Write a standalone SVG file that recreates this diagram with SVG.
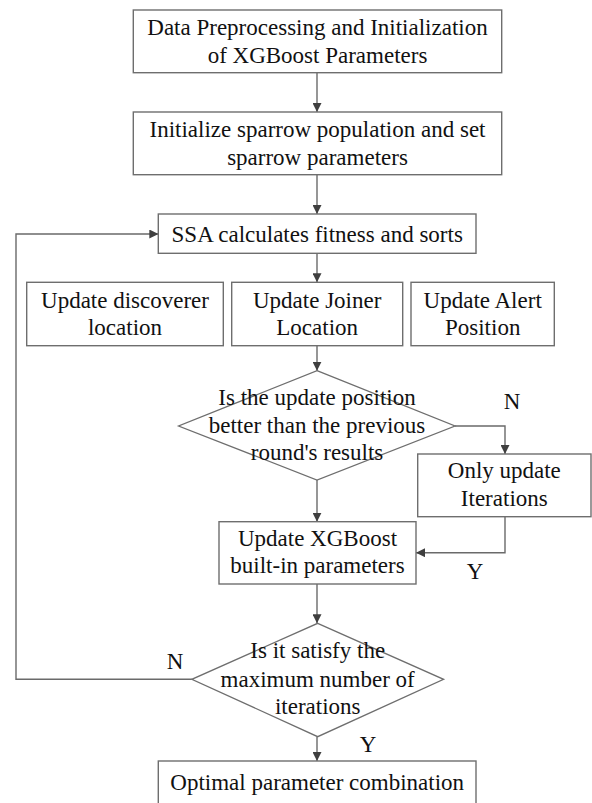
<svg xmlns="http://www.w3.org/2000/svg" width="592" height="803" viewBox="0 0 592 803">
  <style>
    .box { fill: #ffffff; stroke: #6e6e6e; stroke-width: 1.4; }
    .dia { fill: none; stroke: #6e6e6e; stroke-width: 1.3; }
    .lbl { font-family: "Liberation Serif", "Times New Roman", serif; font-size: 23px; fill: #111111; text-anchor: middle; }
    .edge { fill: none; stroke: #6a6a6a; stroke-width: 1.4; }
  </style>
  <defs>
    <marker id="arrow" viewBox="0 0 10 10" refX="10" refY="5" markerWidth="9" markerHeight="9" markerUnits="userSpaceOnUse" orient="auto">
      <path d="M0,0 L10,5 L0,10 z" fill="#3f3f3f"/>
    </marker>
  </defs>
  <rect width="592" height="803" fill="#ffffff"/>

  <!-- connectors -->
  <g id="connectors">
    <line class="edge" x1="317" y1="72.7" x2="317" y2="112" marker-end="url(#arrow)"/>
    <line class="edge" x1="317" y1="174.7" x2="317" y2="214" marker-end="url(#arrow)"/>
    <line class="edge" x1="317" y1="253.3" x2="317" y2="282.3" marker-end="url(#arrow)"/>
    <line class="edge" x1="317" y1="345.7" x2="317" y2="370.7" marker-end="url(#arrow)"/>
    <polyline class="edge" points="455,426 505,426 505,454" marker-end="url(#arrow)"/>
    <line class="edge" x1="317" y1="480" x2="317" y2="521.7" marker-end="url(#arrow)"/>
    <polyline class="edge" points="505,516.7 505,552.7 416,552.7" marker-end="url(#arrow)"/>
    <line class="edge" x1="317" y1="584" x2="317" y2="623.3" marker-end="url(#arrow)"/>
    <polyline class="edge" points="191.8,679.3 16,679.3 16,234 158.3,234" marker-end="url(#arrow)"/>
    <line class="edge" x1="317" y1="736.7" x2="317" y2="761" marker-end="url(#arrow)"/>
    <text class="lbl" x="512" y="409">N</text>
    <text class="lbl" x="475" y="579.3">Y</text>
    <text class="lbl" x="175" y="669">N</text>
    <text class="lbl" x="368" y="751.7">Y</text>
  </g>

  <g id="init-xgboost">
    <rect class="box" x="133.3" y="10" width="368.4" height="62.7"/>
    <text class="lbl" x="317.5" y="35">Data Preprocessing and Initialization</text>
    <text class="lbl" x="317.5" y="62.7">of XGBoost  Parameters</text>
  </g>

  <g id="init-sparrow">
    <rect class="box" x="133.3" y="112" width="368.4" height="62.7"/>
    <text class="lbl" x="317.5" y="136.7">Initialize sparrow population and set</text>
    <text class="lbl" x="317.5" y="165">sparrow parameters</text>
  </g>

  <g id="fitness-sort">
    <rect class="box" x="158.3" y="214" width="317.7" height="39.3"/>
    <text class="lbl" x="317.2" y="242">SSA calculates fitness and sorts</text>
  </g>

  <g id="update-discoverer">
    <rect class="box" x="26.7" y="282.3" width="196.6" height="63.4"/>
    <text class="lbl" x="125" y="308.3">Update discoverer</text>
    <text class="lbl" x="125" y="335">location</text>
  </g>

  <g id="update-joiner">
    <rect class="box" x="231.7" y="282.3" width="171" height="63.4"/>
    <text class="lbl" x="317.2" y="308.3">Update Joiner</text>
    <text class="lbl" x="317.2" y="335">Location</text>
  </g>

  <g id="update-alert">
    <rect class="box" x="411" y="282.3" width="143.3" height="63.4"/>
    <text class="lbl" x="482.7" y="308.3">Update Alert</text>
    <text class="lbl" x="482.7" y="335">Position</text>
  </g>

  <g id="check-better">
    <polygon class="dia" points="317,370.7 455,426 317,480 178.6,426"/>
    <text class="lbl" x="317" y="405">Is the update position</text>
    <text class="lbl" x="317" y="433.3">better than the previous</text>
    <text class="lbl" x="317" y="460">round's results</text>
  </g>

  <g id="update-iterations">
    <rect class="box" x="417.7" y="454" width="173.3" height="62.7"/>
    <text class="lbl" x="504.3" y="478.3">Only update</text>
    <text class="lbl" x="504.3" y="506">Iterations</text>
  </g>

  <g id="update-xgboost">
    <rect class="box" x="219" y="521.7" width="197" height="62.3"/>
    <text class="lbl" x="317.5" y="546">Update XGBoost</text>
    <text class="lbl" x="317.5" y="573.3">built-in parameters</text>
  </g>

  <g id="check-max-iter">
    <polygon class="dia" points="317.7,623.3 443.6,679.3 317.7,736.7 191.8,679.3"/>
    <text class="lbl" x="317.7" y="658.3">Is it satisfy the</text>
    <text class="lbl" x="317.7" y="686.7">maximum number of</text>
    <text class="lbl" x="317.7" y="714">iterations</text>
  </g>

  <g id="optimal-params">
    <rect class="box" x="158.3" y="761" width="317.7" height="50"/>
    <text class="lbl" x="317.2" y="790">Optimal parameter combination</text>
  </g>
</svg>
